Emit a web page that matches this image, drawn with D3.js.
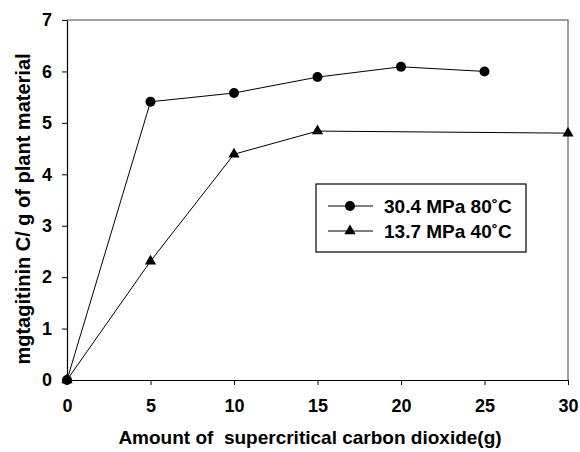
<!DOCTYPE html>
<html>
<head>
<meta charset="utf-8">
<script src="https://cdn.jsdelivr.net/npm/d3@7"></script>
<style>
  body { margin: 0; background: #fff; }
  svg text { font-family: "Liberation Sans", Arial, sans-serif; font-weight: bold; }
</style>
</head>
<body>
<svg id="chart" width="580" height="452"></svg>
<script>
// data
const xHigh = [0, 5, 10, 15, 20, 25];
const yHigh = [0, 5.41, 5.58, 5.89, 6.09, 6.0];
const xLow = [0, 5, 10, 15, 30];
const yLow = [0, 2.31, 4.39, 4.84, 4.80];
const xTicks = [0, 5, 10, 15, 20, 25, 30];
const yTicks = [0, 1, 2, 3, 4, 5, 6, 7];
const seriesNames = ["30.4 MPa 80\u02daC", "13.7 MPa 40\u02daC"];

const svg = d3.select("#chart"),
      margin = { top: 20, right: 12, bottom: 72, left: 67 },
      width = +svg.attr("width"),
      height = +svg.attr("height");

const x = d3.scaleLinear().domain([0, 30]).range([margin.left, width - margin.right]);
const y = d3.scaleLinear().domain([0, 7]).range([height - margin.bottom, margin.top]);

// frame: top and right in gray
svg.append("path")
  .attr("d", `M${x(0)},${y(7)}H${x(30)}V${y(0)}`)
  .attr("fill", "none").attr("stroke", "#808080").attr("stroke-width", 1.5);

// X axis
const gx = svg.append("g")
  .attr("transform", `translate(0,${y(0)})`)
  .call(d3.axisBottom(x).tickValues(xTicks).tickSize(5).tickPadding(14).tickSizeOuter(0));
gx.select(".domain").attr("stroke", "#000").attr("stroke-width", 1.2);
gx.selectAll("text").style("font-size", "18px").attr("fill", "#000");

// Y axis
const gy = svg.append("g")
  .attr("transform", `translate(${x(0)},0)`)
  .call(d3.axisLeft(y).tickValues(yTicks).tickFormat(d3.format("d"))
    .tickSize(5).tickPadding(10).tickSizeOuter(0));
gy.select(".domain").attr("stroke", "#000").attr("stroke-width", 1.2);
gy.selectAll("text").style("font-size", "18px").attr("fill", "#000");

const line = d3.line().x(d => x(d[0])).y(d => y(d[1]));
const high = xHigh.map((v, i) => [v, yHigh[i]]);
const low = xLow.map((v, i) => [v, yLow[i]]);

svg.append("path").datum(low).attr("d", line)
  .attr("fill", "none").attr("stroke", "#000").attr("stroke-width", 1);
svg.append("path").datum(high).attr("d", line)
  .attr("fill", "none").attr("stroke", "#000").attr("stroke-width", 1);

const tri = d3.symbol().type(d3.symbolTriangle).size(55);
svg.selectAll(".tri").data(low).enter().append("path")
  .attr("class", "tri")
  .attr("d", tri)
  .attr("transform", d => `translate(${x(d[0])},${y(d[1])})`)
  .attr("fill", "#000");

svg.selectAll(".dot").data(high).enter().append("circle")
  .attr("class", "dot")
  .attr("cx", d => x(d[0])).attr("cy", d => y(d[1]))
  .attr("r", 5).attr("fill", "#000");

// Legend
const lg = svg.append("g").attr("transform", "translate(316,184)");
lg.append("rect").attr("width", 210).attr("height", 68)
  .attr("fill", "#fff").attr("stroke", "#000").attr("stroke-width", 1.2);
[0, 1].forEach(i => {
  const cy = 22 + i * 25;
  lg.append("line").attr("x1", 12).attr("x2", 57).attr("y1", cy).attr("y2", cy)
    .attr("stroke", "#000").attr("stroke-width", 1);
  if (i === 0) {
    lg.append("circle").attr("cx", 34).attr("cy", cy).attr("r", 5).attr("fill", "#000");
  } else {
    lg.append("path").attr("d", tri).attr("transform", `translate(34,${cy})`).attr("fill", "#000");
  }
  lg.append("text").attr("x", 68).attr("y", cy).attr("dy", "0.36em")
    .style("font-size", "19px").text(seriesNames[i]);
});

// Axis labels
svg.append("text")
  .attr("x", 310)
  .attr("y", 444)
  .attr("text-anchor", "middle")
  .style("font-size", "19px")
  .text("Amount of \u00a0supercritical carbon dioxide(g)");

svg.append("text")
  .attr("transform", "rotate(-90)")
  .attr("x", -209)
  .attr("y", 30)
  .attr("text-anchor", "middle")
  .style("font-size", "20px")
  .text("mgtagitinin C/ g of plant material");
</script>
</body>
</html>
